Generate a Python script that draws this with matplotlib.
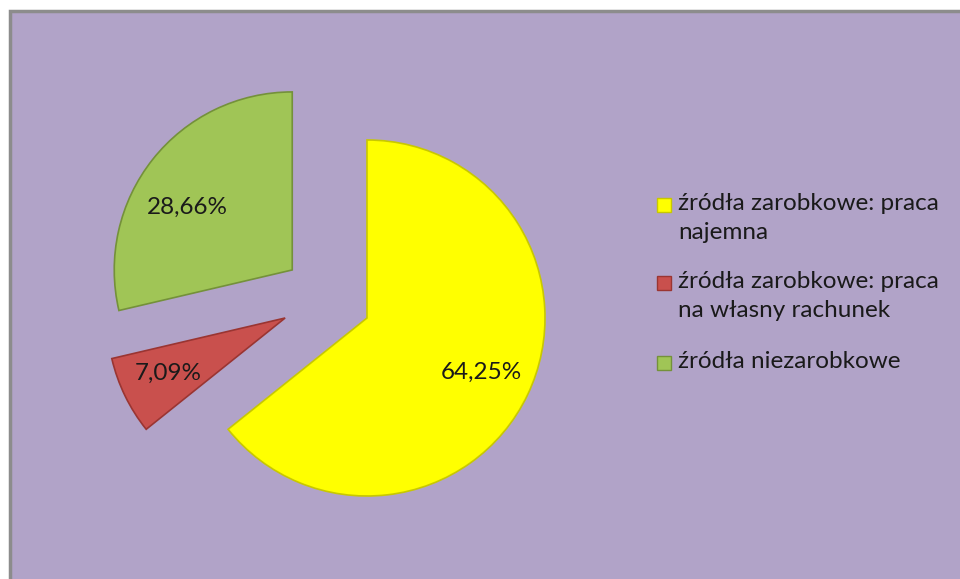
import matplotlib.pyplot as plt
from matplotlib.patches import Rectangle
import numpy as np

# Data
labels = ["źródła zarobkowe: praca\nnajemna",
          "źródła zarobkowe: praca\nna własny rachunek",
          "źródła niezarobkowe"]
shares = [64.25, 7.09, 28.66]
pct_text = ["64,25%", "7,09%", "28,66%"]

# Style
colors = ["#FFFF00", "#C9504D", "#A0C556"]
edges = ["#C8C800", "#9A3532", "#74913A"]
bg = "#B1A3C8"
# slice apex offsets (pie units), Excel-like explosion
offsets = [(0.0, 0.0), (-0.46, 0.0), (-0.42, 0.27)]
# small nudges for the percent labels (pie units)
nudges = [(0.0, 0.0), (-0.02, 0.0), (-0.03, -0.09)]
font = "Lato"
fs = 17.5

W, H = 960, 579
fig = plt.figure(figsize=(W / 100, H / 100), dpi=100)
fig.patch.set_facecolor("white")

# chart area with grey frame (runs off the right and bottom edge)
frame = Rectangle((10 / W, -0.1), 1.2, 1.1 - 11 / H, transform=fig.transFigure,
                  facecolor=bg, edgecolor="#8C8C8C", linewidth=2.5, zorder=-5)
fig.patches.append(frame)

# pie axes: centre at px (367, 318), radius 178 px
cx, cy, r = 367, 318, 178
xl, yl = (-1.6, 1.2), (-1.2, 1.2)
left = cx + xl[0] * r
bottom = H - (cy + yl[1] * r)
ax = fig.add_axes([left / W, bottom / H, (xl[1] - xl[0]) * r / W,
                   (yl[1] - yl[0]) * r / H])
ax.set_facecolor("none")
ax.set_zorder(2)

wedges, _ = ax.pie(shares, colors=colors, startangle=90, counterclock=False,
                   wedgeprops=dict(linewidth=1.2))
for w, ec, off, nd, t in zip(wedges, edges, offsets, nudges, pct_text):
    w.set_center(off)
    w.set_edgecolor(ec)
    mid = np.deg2rad((w.theta1 + w.theta2) / 2)
    ax.text(off[0] + 0.71 * np.cos(mid) + nd[0],
            off[1] + 0.71 * np.sin(mid) + nd[1], t,
            ha="center", va="center", fontsize=fs, family=font, color="#1a1a1a")
ax.set_xlim(*xl)
ax.set_ylim(*yl)
ax.set_aspect("equal")
ax.axis("off")

# legend
ys = [205, 283, 363]
for lab, c, ec, y in zip(labels, colors, edges, ys):
    fig.patches.append(Rectangle((657 / W, 1 - (y + 7) / H), 14 / W, 14 / H,
                                 transform=fig.transFigure, facecolor=c,
                                 edgecolor=ec, linewidth=1, zorder=3))
    fig.text(678 / W, 1 - (y - 12) / H, lab, ha="left", va="top", fontsize=fs,
             family=font, color="#1a1a1a", linespacing=1.45, zorder=3)

fig.savefig("out.png", dpi=100, facecolor=fig.get_facecolor())
